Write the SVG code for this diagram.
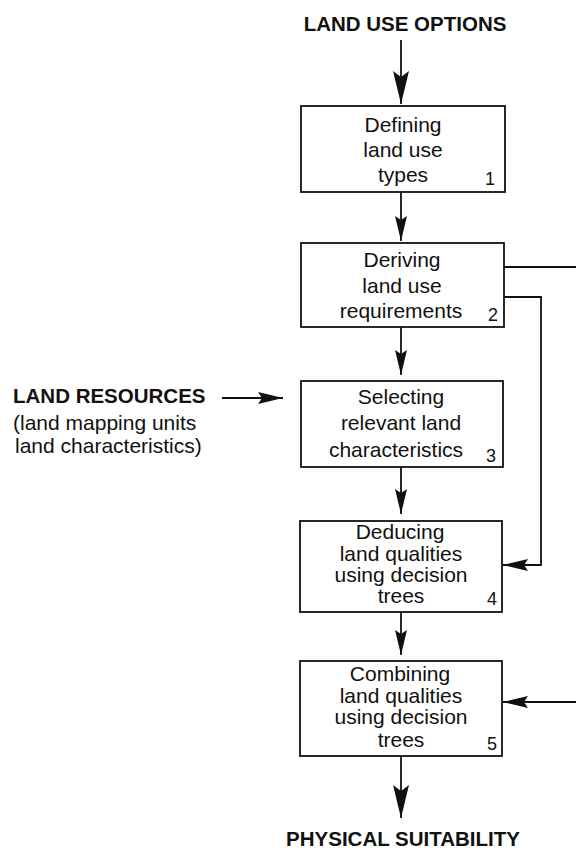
<svg xmlns="http://www.w3.org/2000/svg" width="576" height="851" viewBox="0 0 576 851">
<style>
  .box { fill: #fff; stroke: #111; stroke-width: 1.8; }
  .t { font-family: "Liberation Sans", Arial, sans-serif; font-size: 21px; fill: #111; text-anchor: middle; }
  .tl { font-family: "Liberation Sans", Arial, sans-serif; font-size: 21px; fill: #111; text-anchor: start; }
  .h { font-family: "Liberation Sans", Arial, sans-serif; font-size: 20.5px; font-weight: bold; fill: #111; }
  .n { font-family: "Liberation Sans", Arial, sans-serif; font-size: 18px; fill: #111; text-anchor: end; }
  .ln { fill: none; stroke: #111; stroke-width: 1.8; }
</style>
<defs>
  <marker id="big" markerUnits="userSpaceOnUse" markerWidth="34" markerHeight="16" refX="33" refY="8" orient="auto">
    <path d="M0,0 L33,8 L0,16 L6,8 Z" fill="#111"/>
  </marker>
  <marker id="sm" markerUnits="userSpaceOnUse" markerWidth="26" markerHeight="12" refX="25" refY="6" orient="auto">
    <path d="M0,0 L25,6 L0,12 L4,6 Z" fill="#111"/>
  </marker>
</defs>
<rect width="576" height="851" fill="#fff"/>

<text class="h" x="405" y="31" text-anchor="middle">LAND USE OPTIONS</text>
<text class="h" x="403" y="846" text-anchor="middle">PHYSICAL SUITABILITY</text>
<g id="land-resources">
  <text class="h" x="13" y="403">LAND RESOURCES</text>
  <text class="tl" x="13" y="430">(land mapping units</text>
  <text class="tl" x="15" y="453">land characteristics)</text>
</g>

<g id="node1">
  <rect class="box" x="301" y="106" width="204" height="86"/>
  <text class="t" x="403" y="132">Defining</text>
  <text class="t" x="403" y="157">land use</text>
  <text class="t" x="403" y="182">types</text>
  <text class="n" x="495" y="185">1</text>
</g>
<g id="node2">
  <rect class="box" x="301" y="243" width="203" height="84"/>
  <text class="t" x="402" y="267">Deriving</text>
  <text class="t" x="402" y="293">land use</text>
  <text class="t" x="401" y="318">requirements</text>
  <text class="n" x="498" y="321">2</text>
</g>
<g id="node3">
  <rect class="box" x="301" y="381" width="202" height="86"/>
  <text class="t" x="401" y="404">Selecting</text>
  <text class="t" x="401" y="430">relevant land</text>
  <text class="t" x="396" y="457">characteristics</text>
  <text class="n" x="496" y="462">3</text>
</g>
<g id="node4">
  <rect class="box" x="300" y="521" width="202" height="91"/>
  <text class="t" x="400" y="539">Deducing</text>
  <text class="t" x="401" y="561">land qualities</text>
  <text class="t" x="401" y="582">using decision</text>
  <text class="t" x="401" y="603">trees</text>
  <text class="n" x="497" y="605">4</text>
</g>
<g id="node5">
  <rect class="box" x="300" y="661" width="202" height="95"/>
  <text class="t" x="400" y="681">Combining</text>
  <text class="t" x="401" y="703">land qualities</text>
  <text class="t" x="401" y="724">using decision</text>
  <text class="t" x="401" y="747">trees</text>
  <text class="n" x="497" y="750">5</text>
</g>

<g id="connectors">
  <line class="ln" x1="401" y1="40" x2="401" y2="104" marker-end="url(#big)"/>
  <line class="ln" x1="401" y1="192" x2="401" y2="241" marker-end="url(#sm)"/>
  <line class="ln" x1="401" y1="327" x2="401" y2="375" marker-end="url(#sm)"/>
  <line class="ln" x1="401" y1="467" x2="401" y2="514" marker-end="url(#sm)"/>
  <line class="ln" x1="401" y1="612" x2="401" y2="655" marker-end="url(#sm)"/>
  <line class="ln" x1="401" y1="756" x2="401" y2="818" marker-end="url(#big)"/>
  <line class="ln" x1="222" y1="398" x2="283" y2="398" marker-end="url(#sm)"/>
  <line class="ln" x1="504" y1="267" x2="576" y2="267"/>
  <polyline class="ln" points="504,297 541,297 541,565 503,565" marker-end="url(#sm)"/>
  <line class="ln" x1="576" y1="702" x2="503" y2="702" marker-end="url(#sm)"/>
</g>
</svg>
